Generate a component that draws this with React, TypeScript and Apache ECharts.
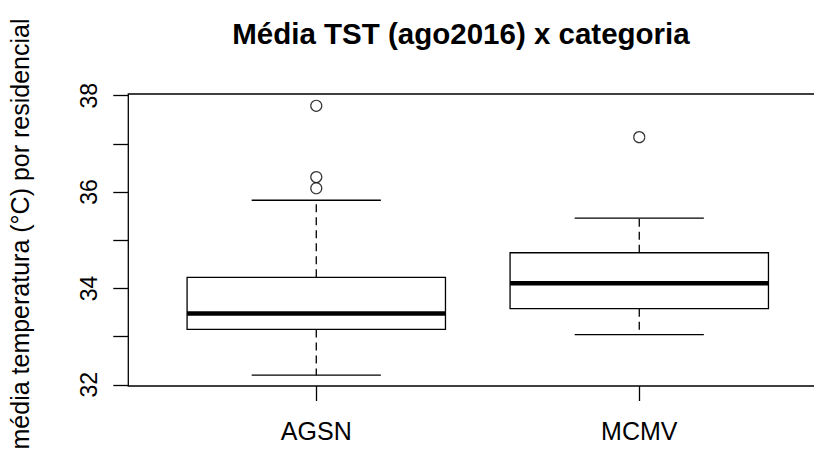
import React, { useEffect, useRef } from "react";
import * as echarts from "echarts";

const categories = ["AGSN", "MCMV"];
// [lower whisker, Q1, median, Q3, upper whisker]
const boxStats = [
  [32.2, 33.15, 33.48, 34.23, 35.83],
  [33.04, 33.58, 34.11, 34.74, 35.46],
];
const outliersAGSN = [36.08, 36.31, 37.79];
const outliersMCMV = [37.14];
const yTicks = [32, 33, 34, 35, 36, 37, 38];
const yLabels = [32, 34, 36, 38];

const FONT = "'Liberation Sans', Arial, sans-serif";

export default function App() {
  const ref = useRef<HTMLDivElement>(null);
  useEffect(() => {
    if (!ref.current) return;
    const chart = echarts.init(ref.current, null, { renderer: "svg" });
    const boxData = boxStats.map((s, i) => [i + 1, ...s]);
    const outlierData = [
      ...outliersAGSN.map((v) => [1, v]),
      ...outliersMCMV.map((v) => [2, v]),
    ];
    chart.setOption({
      animation: false,
      backgroundColor: "#fff",
      title: {
        text: "Média TST (ago2016) x categoria",
        left: 456,
        top: 13,
        textAlign: "center",
        textStyle: { fontFamily: FONT, fontSize: 29.5, fontWeight: "bold", color: "#000" },
      },
      grid: {
        left: 128.3,
        top: 94,
        width: 697,
        height: 292,
        outerBoundsMode: "none",
        containLabel: false,
        show: true,
        borderColor: "#000",
        borderWidth: 1.3,
        backgroundColor: "transparent",
      },
      xAxis: {
        type: "value",
        min: 0.418,
        max: 2.576,
        splitLine: { show: false },
        axisLine: { show: false },
        axisTick: {
          show: true,
          customValues: [1, 2],
          length: 15,
          inside: false,
          lineStyle: { color: "#000", width: 1.3 },
        },
        axisLabel: {
          customValues: [1, 2],
          formatter: (v: number) => categories[Math.round(v) - 1] ?? "",
          fontFamily: FONT,
          fontSize: 25,
          color: "#000",
          margin: 32,
        },
      },
      yAxis: {
        type: "value",
        min: 31.975,
        max: 38.035,
        splitLine: { show: false },
        axisLine: { show: false },
        name: "média temperatura (°C) por residencial",
        nameLocation: "middle",
        nameGap: 96,
        nameRotate: 90,
        nameTextStyle: { fontFamily: FONT, fontSize: 25, color: "#000", padding: [0, 0, 0, 12] },
        axisTick: {
          show: true,
          customValues: yTicks,
          length: 15,
          inside: false,
          lineStyle: { color: "#000", width: 1.3 },
        },
        axisLabel: {
          customValues: yLabels,
          rotate: 90,
          fontFamily: FONT,
          fontSize: 23,
          color: "#000",
          margin: 28,
        },
      },
      series: [
        {
          type: "custom",
          data: boxData,
          encode: { x: 0, y: [1, 2, 3, 4, 5] },
          renderItem: (params: any, api: any) => {
            const x = api.value(0);
            const lo = api.coord([x, api.value(1)]);
            const q1 = api.coord([x, api.value(2)]);
            const med = api.coord([x, api.value(3)]);
            const q3 = api.coord([x, api.value(4)]);
            const hi = api.coord([x, api.value(5)]);
            const w = api.size([0.8, 0])[0];
            const cx = lo[0];
            const half = w / 2;
            const cap = w / 4;
            const solid = { stroke: "#000", lineWidth: 1.3, fill: null };
            const dashed = { stroke: "#000", lineWidth: 1.3, lineDash: [8, 5] };
            return {
              type: "group",
              children: [
                { type: "line", shape: { x1: cx, y1: q3[1], x2: cx, y2: hi[1] }, style: dashed },
                { type: "line", shape: { x1: cx, y1: q1[1], x2: cx, y2: lo[1] }, style: dashed },
                { type: "line", shape: { x1: cx - cap, y1: hi[1], x2: cx + cap, y2: hi[1] }, style: solid },
                { type: "line", shape: { x1: cx - cap, y1: lo[1], x2: cx + cap, y2: lo[1] }, style: solid },
                {
                  type: "rect",
                  shape: { x: cx - half, y: q3[1], width: w, height: q1[1] - q3[1] },
                  style: { stroke: "#000", lineWidth: 1.3, fill: "#fff" },
                },
                { type: "line", shape: { x1: cx - half, y1: med[1], x2: cx + half, y2: med[1] }, style: { stroke: "#000", lineWidth: 4.5 } },
              ],
            };
          },
        },
        {
          type: "scatter",
          data: outlierData,
          symbol: "circle",
          symbolSize: 11,
          itemStyle: { color: "#fff", borderColor: "#000", borderWidth: 1.2 },
        },
      ],
    });
    return () => chart.dispose();
  }, []);
  return (
    <div
      ref={ref}
      style={{ position: "absolute", left: 0, top: 0, width: 814, height: 460 }}
    />
  );
}
